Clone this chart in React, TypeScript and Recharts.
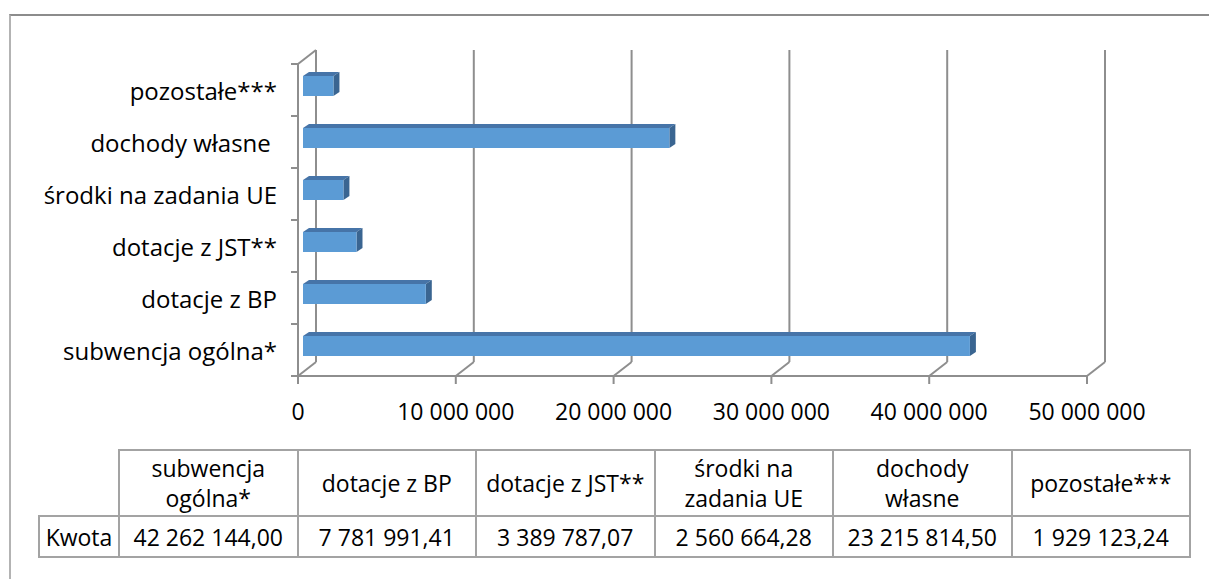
import { Bar, BarChart, CartesianGrid, XAxis, YAxis } from "recharts";

const categories = [
  "subwencja ogólna*",
  "dotacje z BP",
  "dotacje z JST**",
  "środki na zadania UE",
  "dochody własne ",
  "pozostałe***",
];
const amounts = [42262144.0, 7781991.41, 3389787.07, 2560664.28, 23215814.5, 1929123.24];
const tableHeaders = [
  "subwencja\nogólna*",
  "dotacje z BP",
  "dotacje z JST**",
  "środki na\nzadania UE",
  "dochody\nwłasne",
  "pozostałe***",
];
const rowLabel = "Kwota";
const xTicks = [0, 10000000, 20000000, 30000000, 40000000, 50000000];

const data = categories.map((name, i) => ({ name, value: amounts[i] }));

const W = 1209;
const H = 579;
const PLOT_LEFT = 298;
const PLOT_RIGHT = 1087;
const PLOT_TOP = 64;
const PLOT_BOTTOM = 376;
const Y_AXIS_W = 280;
const X_AXIS_H = 50;
const DX = 18;
const DY = 14;
const BAND = (PLOT_BOTTOM - PLOT_TOP) / categories.length;

const FONT = '"Open Sans", sans-serif';
const GRID = "#8e8e8e";
const FRONT = "#5b9bd5";
const TOP = "#4674a8";
const SIDE = "#3a6591";

// digits grouped with spaces, comma as decimal mark
function fmt(v: number, decimals: number) {
  const [int, frac] = v.toFixed(decimals).split(".");
  const grouped = int.replace(/\B(?=(\d{3})+(?!\d))/g, " ");
  return frac ? `${grouped},${frac}` : grouped;
}

function Bar3D(props: any) {
  const { x, y, width, height } = props;
  const x0 = x + 5;
  const y0 = y - 4;
  const d = 6;
  const e = 4;
  return (
    <g>
      <polygon
        points={`${x0},${y0} ${x0 + d},${y0 - e} ${x0 + width + d},${y0 - e} ${x0 + width},${y0}`}
        fill={TOP}
      />
      <polygon
        points={`${x0 + width},${y0} ${x0 + width + d},${y0 - e} ${x0 + width + d},${y0 + height - e} ${x0 + width},${y0 + height}`}
        fill={SIDE}
      />
      <rect x={x0} y={y0} width={width} height={height} fill={FRONT} />
    </g>
  );
}

function CategoryTick(props: any) {
  const { y, payload } = props;
  return (
    <g>
      <text
        x={PLOT_LEFT - 21}
        y={y}
        dy={10}
        textAnchor="end"
        fontFamily={FONT}
        fontSize={24}
        fill="#000"
        style={{ whiteSpace: "pre" }}
      >
        {payload.value}
      </text>
      <line x1={PLOT_LEFT - 7} x2={PLOT_LEFT} y1={y - BAND / 2} y2={y - BAND / 2} stroke={GRID} strokeWidth={2} />
      <line x1={PLOT_LEFT - 7} x2={PLOT_LEFT} y1={y + BAND / 2} y2={y + BAND / 2} stroke={GRID} strokeWidth={2} />
    </g>
  );
}

function ValueTick(props: any) {
  const { x, payload } = props;
  return (
    <text x={x} y={PLOT_BOTTOM + 44} textAnchor="middle" fontFamily={FONT} fontSize={23} fill="#000">
      {fmt(payload.value, 0)}
    </text>
  );
}

function wallLine(props: any) {
  const { x1, y1, y2, key } = props;
  return (
    <g key={key} stroke={GRID} strokeWidth={2} fill="none">
      <line x1={x1 + DX} y1={y1 - DY} x2={x1 + DX} y2={y2 - DY} />
      <line x1={x1} y1={y2} x2={x1 + DX} y2={y2 - DY} />
      {Math.abs(x1 - PLOT_LEFT) < 1 && <line x1={x1} y1={y1} x2={x1 + DX} y2={y1 - DY} />}
    </g>
  );
}

const COL0_LEFT = 39;
const COL1_LEFT = 119;
const COL_W = 178.5;
const HEAD_TOP = 450;
const HEAD_H = 66;
const ROW_TOP = 516;
const ROW_H = 41;

function Cell({ left, top, width, height, text }: any) {
  return (
    <div
      style={{
        position: "absolute",
        left: left - 1,
        top: top - 1,
        width: width + 2,
        height: height + 2,
        boxSizing: "border-box",
        border: "2px solid #a3a3a3",
        display: "flex",
        alignItems: "center",
        justifyContent: "center",
        textAlign: "center",
        fontSize: 23,
        lineHeight: "30px",
        whiteSpace: "pre-line",
        color: "#000",
      }}
    >
      {text}
    </div>
  );
}

export default function App() {
  return (
    <div
      style={{
        position: "absolute",
        left: 0,
        top: 0,
        width: W,
        height: H,
        overflow: "hidden",
        background: "#fff",
        fontFamily: FONT,
      }}
    >
      <div
        style={{
          position: "absolute",
          left: 9,
          top: 14,
          width: 1400,
          height: 800,
          borderTop: "2px solid #8c8c8c",
          borderLeft: "2px solid #b3b3b3",
        }}
      />
      <div style={{ position: "absolute", left: 0, top: 0 }}>
        <BarChart
          width={W}
          height={H}
          data={data}
          layout="vertical"
          margin={{
            top: PLOT_TOP,
            right: W - PLOT_RIGHT,
            left: PLOT_LEFT - Y_AXIS_W,
            bottom: H - PLOT_BOTTOM - X_AXIS_H,
          }}
        >
          <CartesianGrid horizontal={false} vertical={wallLine} />
          <XAxis
            type="number"
            domain={[0, 50000000]}
            ticks={xTicks}
            interval={0}
            height={X_AXIS_H}
            axisLine={{ stroke: GRID, strokeWidth: 2 }}
            tickLine={{ stroke: GRID, strokeWidth: 2 }}
            tickSize={8}
            tick={(p: any) => <ValueTick {...p} />}
          />
          <YAxis
            type="category"
            dataKey="name"
            reversed
            width={Y_AXIS_W}
            interval={0}
            axisLine={{ stroke: GRID, strokeWidth: 2 }}
            tickLine={false}
            tick={(p: any) => <CategoryTick {...p} />}
          />
          <Bar dataKey="value" barSize={20} shape={Bar3D} isAnimationActive={false} />
        </BarChart>
      </div>
      {tableHeaders.map((h, i) => (
        <Cell key={"h" + i} left={COL1_LEFT + i * COL_W} top={HEAD_TOP} width={COL_W} height={HEAD_H} text={h} />
      ))}
      <Cell left={COL0_LEFT} top={ROW_TOP} width={COL1_LEFT - COL0_LEFT} height={ROW_H} text={rowLabel} />
      {amounts.map((v, i) => (
        <Cell key={"v" + i} left={COL1_LEFT + i * COL_W} top={ROW_TOP} width={COL_W} height={ROW_H} text={fmt(v, 2)} />
      ))}
    </div>
  );
}
